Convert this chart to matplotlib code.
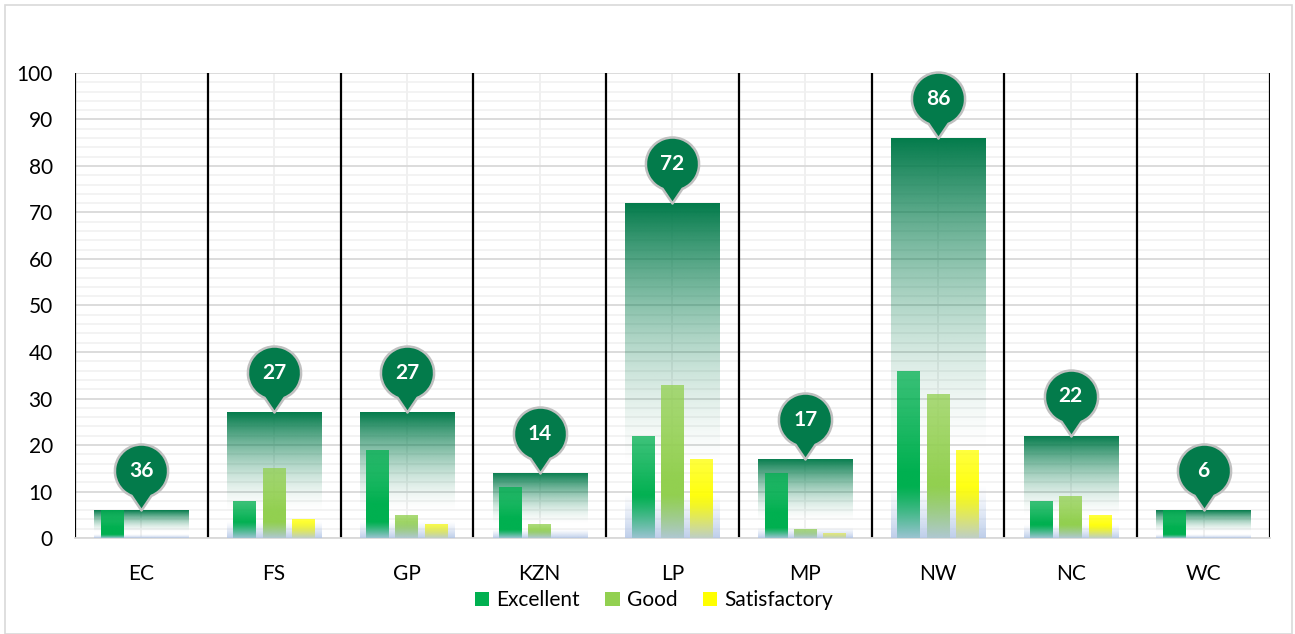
import numpy as np
import matplotlib.pyplot as plt
from matplotlib.path import Path
from matplotlib.patches import Patch, Rectangle
from matplotlib.ticker import MultipleLocator
from matplotlib.colors import to_rgb

plt.rcParams['font.family'] = ['Lato', 'DejaVu Sans']

# data
regions = ['EC', 'FS', 'GP', 'KZN', 'LP', 'MP', 'NW', 'NC', 'WC']
totals = [6, 27, 27, 14, 72, 17, 86, 22, 6]
total_labels = [36, 27, 27, 14, 72, 17, 86, 22, 6]
excellent = [6, 8, 19, 11, 22, 14, 36, 8, 6]
good = [0, 15, 5, 3, 33, 2, 31, 9, 0]
satisfactory = [0, 4, 3, 0, 17, 1, 19, 5, 0]

series = [('Excellent', excellent, '#00B050'),
          ('Good', good, '#92D050'),
          ('Satisfactory', satisfactory, '#FFFF00')]

dark_green = '#037B4B'
x = np.arange(len(regions))

fig = plt.figure(figsize=(12.95, 6.34), dpi=100)
ax = fig.add_axes([0.0579, 0.1514, 0.9228, 0.7335])

# outer frame of the chart
fig.patches.append(Rectangle((5 / 1295, 0), 1287 / 1295, 629 / 634, transform=fig.transFigure,
                             fill=False, edgecolor='#D9D9D9', linewidth=1.2))


def gradient_fill(patch, rgba, z):
    x0, y0 = patch.get_x(), patch.get_y()
    w, h = patch.get_width(), patch.get_height()
    if h <= 0:
        return
    img = ax.imshow(rgba, extent=[x0, x0 + w, y0, y0 + h], origin='lower',
                    aspect='auto', interpolation='bilinear', zorder=z)
    img.set_clip_path(patch)


t = np.linspace(0, 1, 256)  # 0 = bottom, 1 = top

# total bars: dark green on top fading out downwards
tot_bars = ax.bar(x, totals, width=0.71, color='none', zorder=2)
g = np.zeros((256, 1, 4))
g[:, 0, :3] = to_rgb(dark_green)
g[:, 0, 3] = np.clip((t - 0.2) / 0.8, 0, 1) ** 1.6
for p in tot_bars:
    gradient_fill(p, g, 2)

# the three rating bars
offsets = [-0.22, 0, 0.22]
for (name, vals, col), off in zip(series, offsets):
    bars = ax.bar(x + off, vals, width=0.173, color='none', zorder=3)
    s = np.zeros((256, 1, 4))
    s[:, 0, :3] = to_rgb(col)
    s[:, 0, 3] = np.clip(1 - (t - 0.4) / 0.6 * 0.25, 0.75, 1)
    for p in bars:
        gradient_fill(p, s, 3)

# pale blue band at the foot of every total bar
band = np.zeros((256, 1, 4))
band[:, 0, :3] = to_rgb('#B4C7E7')
band[:, 0, 3] = np.clip(1 - t / 0.13, 0, 1) ** 1.2 * 0.85
for p in tot_bars:
    gradient_fill(p, band, 4)

# balloon marker: tip at the origin, circle above it
c = 1.48
arc = Path.arc(-68, 248)
verts = list(arc.vertices + [0, c]) + [(0, 0), (0, 0)]
codes = list(arc.codes) + [Path.LINETO, Path.CLOSEPOLY]
balloon = Path(verts, codes)
ms = 95
center_off = c * 0.5 / (c + 1) * ms

for xi, tot, lab in zip(x, totals, total_labels):
    ax.plot(xi, tot, marker=balloon, markersize=ms, markerfacecolor=dark_green,
            markeredgecolor='#C0C0C0', markeredgewidth=1.8, zorder=6, clip_on=False)
    ax.annotate(str(lab), (xi, tot), xytext=(0, center_off), textcoords='offset points',
                ha='center', va='center', color='white', fontsize=15, fontweight='bold',
                zorder=7)

# black separators between regions
for b in np.arange(-0.5, len(regions), 1):
    ax.plot([b, b], [0, 100], color='black', linewidth=1.6, zorder=1.5)

ax.set_xlim(-0.5, len(regions) - 0.5)
ax.set_ylim(0, 100)
ax.set_xticks(x)
ax.set_xticklabels(regions)
ax.yaxis.set_major_locator(MultipleLocator(10))
ax.yaxis.set_minor_locator(MultipleLocator(2))
ax.tick_params(axis='both', length=0, labelsize=15, colors='#000000')
ax.tick_params(axis='x', pad=19)
ax.tick_params(axis='y', pad=16)
ax.tick_params(axis='y', which='minor', length=0)

ax.set_axisbelow(True)
ax.grid(axis='y', which='major', color='#D9D9D9', linewidth=1.3)
ax.grid(axis='y', which='minor', color='#F0F0F0', linewidth=1.1)
ax.grid(axis='x', which='major', color='#EDEDED', linewidth=1.2)
for s_ in ['top', 'right', 'left']:
    ax.spines[s_].set_visible(False)
ax.spines['bottom'].set_color('#D9D9D9')
ax.spines['bottom'].set_linewidth(1.3)

handles = [Patch(facecolor=col, label=name) for name, _, col in series]
fig.legend(handles=handles, loc='center', bbox_to_anchor=(0.505, 0.053), ncol=3, frameon=False,
           fontsize=15, handlelength=0.7, handleheight=0.7, handletextpad=0.35, columnspacing=1.2)

fig.savefig('out.png', dpi=100)
